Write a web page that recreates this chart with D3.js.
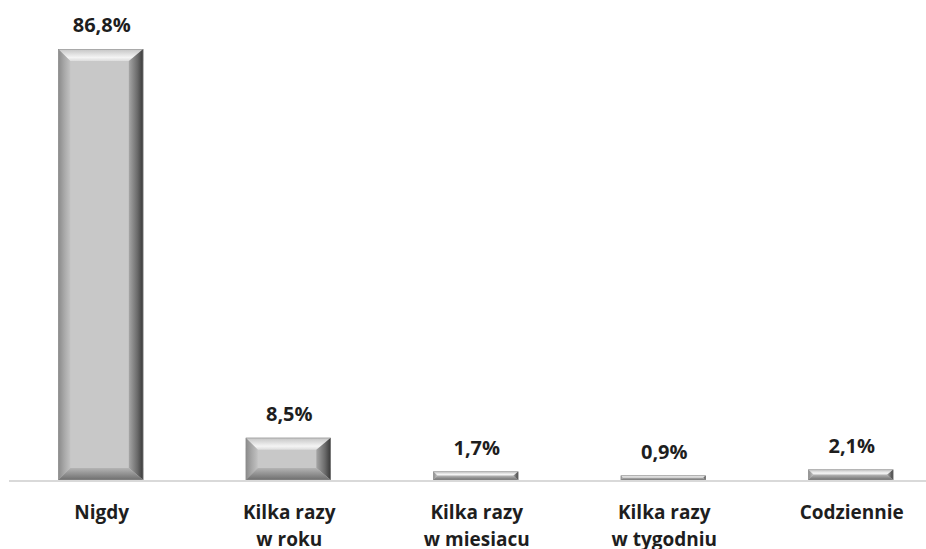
<!DOCTYPE html>
<html><head><meta charset="utf-8">
<script src="https://cdn.jsdelivr.net/npm/d3@7"></script>
<style>body{margin:0;background:#fff}svg{display:block}</style>
</head><body>
<script>
const categories = [["Nigdy"], ["Kilka razy", "w roku"], ["Kilka razy", "w miesiacu"], ["Kilka razy", "w tygodniu"], ["Codziennie"]];
const values = [86.8, 8.5, 1.7, 0.9, 2.1];
const valueLabels = ["86,8%", "8,5%", "1,7%", "0,9%", "2,1%"];

const W = 926, H = 549;
const svg = d3.select("body").append("svg").attr("width", W).attr("height", H);
const defs = svg.append("defs");

const x = d3.scaleBand().domain(d3.range(values.length)).range([7, 944.5]).paddingInner(0.547).paddingOuter(0.2735);
const y = d3.scaleLinear().domain([0, 90]).range([480, 480 - 90 * 4.965]);

function grad(id, x1, y1, x2, y2, stops) {
  const g = defs.append("linearGradient").attr("id", id)
    .attr("x1", x1).attr("y1", y1).attr("x2", x2).attr("y2", y2);
  stops.forEach(s => g.append("stop").attr("offset", s[0]).attr("stop-color", s[1]));
}
grad("gTop", 0, 0, 0, 1, [[0, "#c4c4c4"], [0.7, "#f4f4f4"], [1, "#dcdcdc"]]);
grad("gLeft", 0, 0, 1, 0, [[0, "#8a8a8a"], [0.5, "#a8a8a8"], [1, "#c2c2c2"]]);
grad("gRight", 0, 0, 1, 0, [[0, "#a6a6a6"], [0.6, "#6a6a6a"], [1, "#383838"]]);
grad("gBottom", 0, 0, 0, 1, [[0, "#b4b4b4"], [1, "#6e6e6e"]]);

// axis line
svg.append("line").attr("x1", 9).attr("x2", W).attr("y1", y(0) + 1).attr("y2", y(0) + 1)
  .attr("stroke", "#d9d9d9").attr("stroke-width", 2);

const bars = svg.append("g");
values.forEach((v, i) => {
  const x0 = x(i), w = x.bandwidth(), y0 = y(v), y1 = y(0), h = y1 - y0;
  const b = Math.min(12, h / 2, w / 2);
  const g = bars.append("g");
  g.append("rect").attr("x", x0).attr("y", y0).attr("width", w).attr("height", h).attr("fill", "#c8c8c8");
  const poly = (pts, fill) => g.append("polygon").attr("points", pts.map(p => p.join(",")).join(" ")).attr("fill", fill);
  poly([[x0, y0], [x0 + w, y0], [x0 + w - b, y0 + b], [x0 + b, y0 + b]], "url(#gTop)");
  poly([[x0, y0], [x0 + b, y0 + b], [x0 + b, y1 - b], [x0, y1]], "url(#gLeft)");
  poly([[x0 + w, y0], [x0 + w, y1], [x0 + w - b * 1.2, y1 - b], [x0 + w - b * 1.2, y0 + b]], "url(#gRight)");
  poly([[x0, y1], [x0 + b, y1 - b], [x0 + w - b * 1.2, y1 - b], [x0 + w, y1]], "url(#gBottom)");
  g.append("rect").attr("x", x0 + 0.25).attr("y", y0 + 0.25).attr("width", w - 0.5).attr("height", Math.max(h - 0.5, 0))
    .attr("fill", "none").attr("stroke", "#8c8c8c").attr("stroke-width", 0.5);
});

svg.append("g").selectAll("text").data(values).join("text")
  .attr("x", (d, i) => x(i) + x.bandwidth() / 2 + 1)
  .attr("y", d => y(d) - 17)
  .attr("text-anchor", "middle")
  .attr("font-family", "'Open Sans', sans-serif").attr("font-weight", 700).attr("font-size", 20)
  .attr("fill", "#1e1e1e")
  .text((d, i) => valueLabels[i]);

const cat = svg.append("g");
categories.forEach((lines, i) => {
  const t = cat.append("text").attr("text-anchor", "middle")
    .attr("font-family", "'Open Sans', sans-serif").attr("font-weight", 700).attr("font-size", 19)
    .attr("fill", "#1e1e1e");
  lines.forEach((l, j) => t.append("tspan").attr("x", x(i) + x.bandwidth() / 2 + 1).attr("y", 519 + j * 27).text(l));
});
</script>
</body></html>
